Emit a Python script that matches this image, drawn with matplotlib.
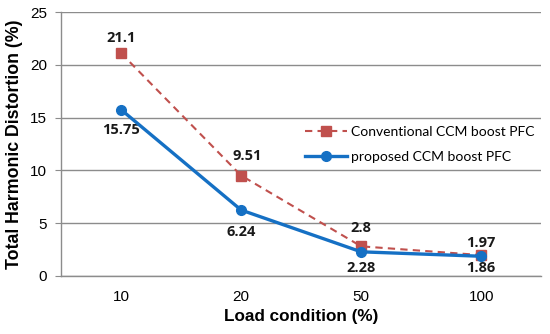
import matplotlib
matplotlib.use("Agg")
import matplotlib.pyplot as plt

categories = ["10", "20", "50", "100"]
conventional = [21.1, 9.51, 2.8, 1.97]
proposed = [15.75, 6.24, 2.28, 1.86]
yticks = [0, 5, 10, 15, 20, 25]

# label offsets (pixels) relative to each marker
conv_off = [(0, 15), (6, 20), (0, 18), (0, 12)]
prop_off = [(0, -20), (0, -22), (0, -16), (0, -12)]

fig = plt.figure(figsize=(5.5, 3.34), dpi=100)
ax = fig.add_axes([0.111, 0.174, 0.873, 0.79])
x = list(range(len(categories)))

red = "#C0504D"
blue = "#1570C4"
l1, = ax.plot(x, conventional, color=red, ls=(0, (3.5, 2.5)), lw=1.5, marker="s", ms=6.5,
              label="Conventional CCM boost PFC", zorder=3)
l2, = ax.plot(x, proposed, color=blue, lw=2.4, marker="o", ms=7,
              label="proposed CCM boost PFC", zorder=4)

ann_font = dict(family="Open Sans", fontweight="bold", fontsize=10.5, color="#1a1a1a")
for xi, v, off in zip(x, conventional, conv_off):
    ax.annotate(f"{v:g}", (xi, v), xytext=off, textcoords="offset pixels",
                ha="center", va="center", **ann_font)
for xi, v, off in zip(x, proposed, prop_off):
    ax.annotate(f"{v:g}", (xi, v), xytext=off, textcoords="offset pixels",
                ha="center", va="center", **ann_font)

ax.set_xlim(-0.5, len(categories) - 0.5)
ax.set_ylim(0, 25)
ax.set_yticks(yticks)
ax.set_xticks(x)
ax.set_xticklabels(categories)
ax.yaxis.grid(True, color="#8c8c8c", lw=1)
ax.set_axisbelow(True)
for s in ["top", "right"]:
    ax.spines[s].set_visible(False)
for s in ["left", "bottom"]:
    ax.spines[s].set_color("#8c8c8c")
    ax.spines[s].set_linewidth(1)
ax.tick_params(axis="y", length=4, color="#8c8c8c", labelsize=11, pad=6)
ax.tick_params(axis="x", length=0, labelsize=11, pad=10)
for lab in ax.get_xticklabels() + ax.get_yticklabels():
    lab.set_family("Liberation Sans")

ax.set_xlabel("Load condition (%)", family="Liberation Sans", fontweight="bold", fontsize=12.3, labelpad=4)
ax.set_ylabel("Total Harmonic Distortion (%)", family="Liberation Sans", fontweight="bold", fontsize=12.8, labelpad=5)

leg = ax.legend(handles=[l1, l2], loc="center left", bbox_to_anchor=(0.508, 0.497), frameon=False,
                prop=dict(family="Lato", size=10), handlelength=3.0, handletextpad=0.3,
                labelspacing=0.95, borderaxespad=0, borderpad=0)

fig.savefig("out.png", dpi=100)
